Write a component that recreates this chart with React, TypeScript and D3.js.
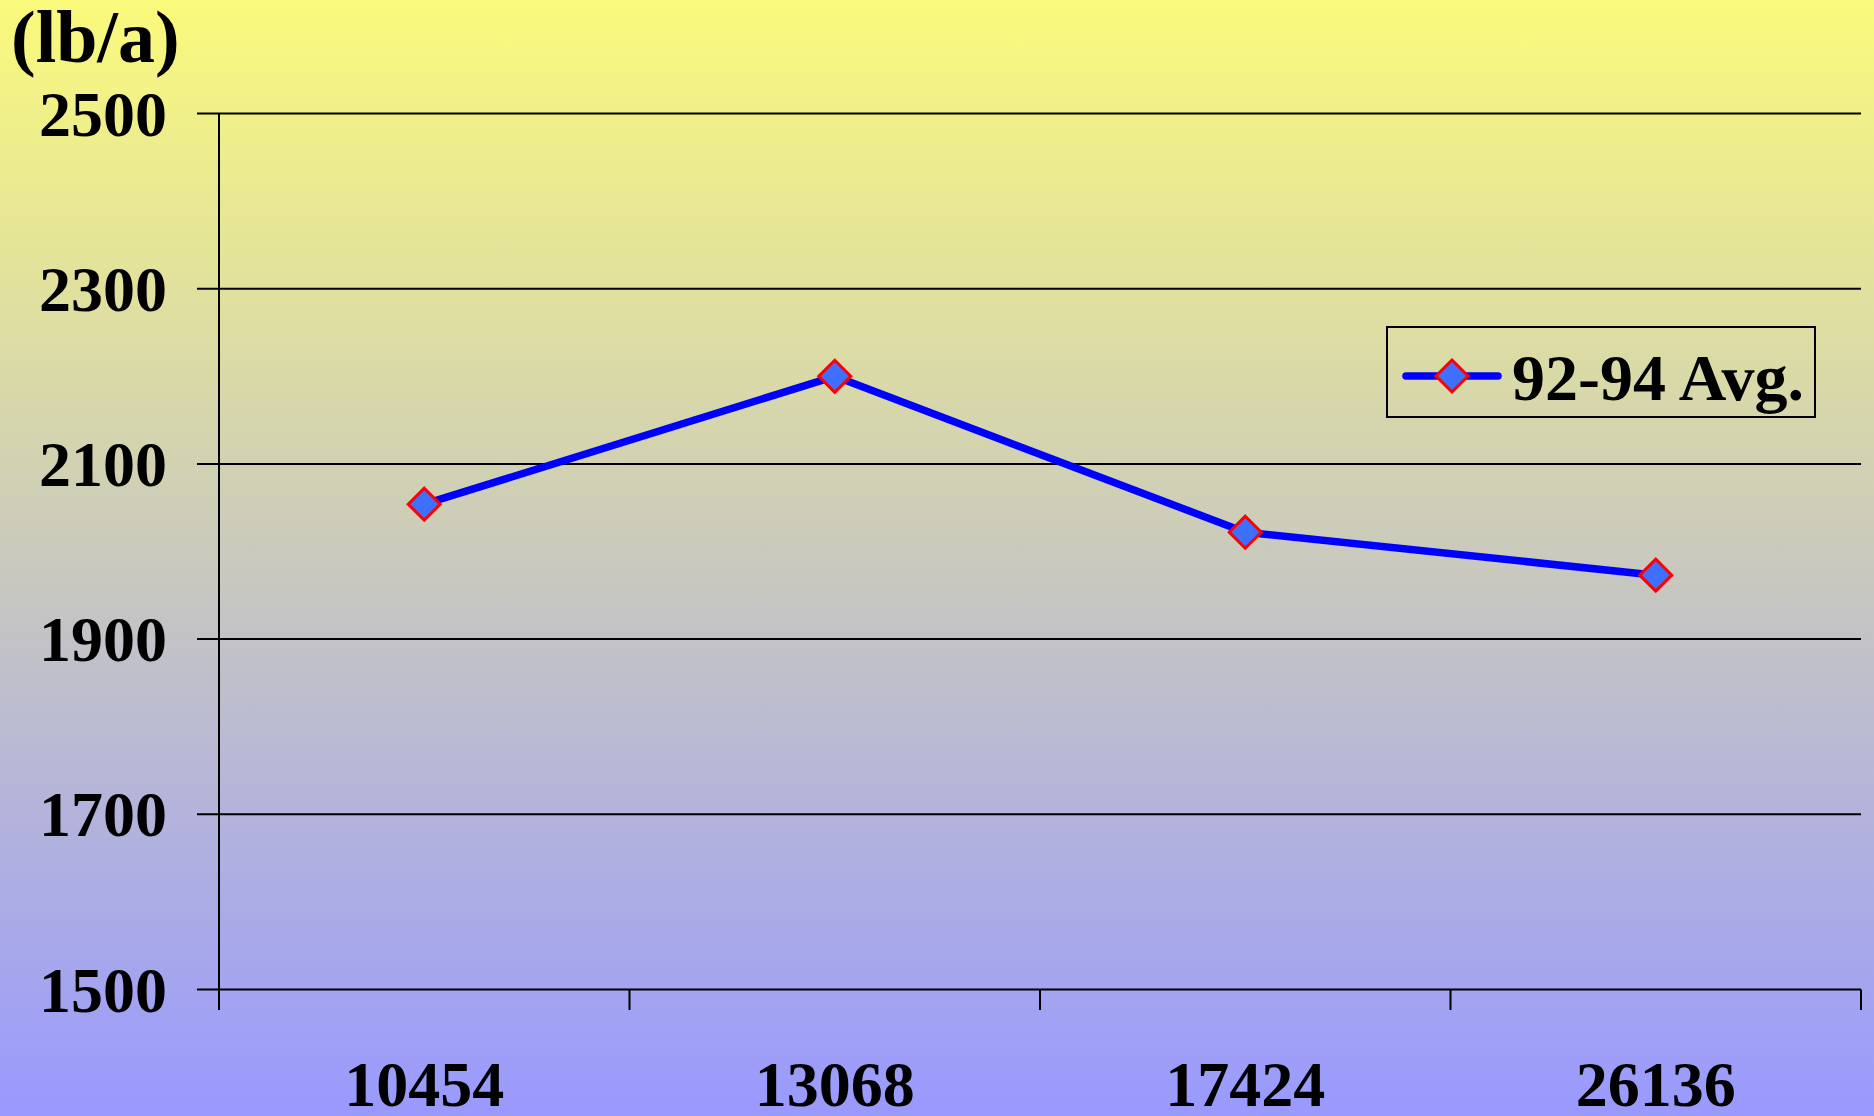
import React from "react";
import * as d3 from "d3";

const categories = ["10454", "13068", "17424", "26136"];
const avgValues = [2054, 2200, 2022, 1973];
const yTicks = [1500, 1700, 1900, 2100, 2300, 2500];
const seriesName = "92-94 Avg.";
const unitLabel = "(lb/a)";

const W = 1874;
const H = 1116;
const FONT = "'Liberation Serif', 'Times New Roman', serif";

export default function App() {
  const x = d3.scaleBand<string>().domain(categories).range([219, 1861]).padding(0);
  const y = d3.scaleLinear().domain([1500, 2500]).range([989.5, 113.5]);
  const line = d3
    .line<number>()
    .x((_, i) => (x(categories[i]) as number) + x.bandwidth() / 2)
    .y((d) => y(d));
  const diamond = (cx: number, cy: number, r: number) =>
    `M${cx},${cy - r}L${cx + r},${cy}L${cx},${cy + r}L${cx - r},${cy}Z`;
  const xTickPos = [...categories.map((c) => x(c) as number), 1861];

  return (
    <svg
      width={W}
      height={H}
      style={{ position: "absolute", left: 0, top: 0, display: "block" }}
    >
      <defs>
        <linearGradient id="bg" x1="0" y1="0" x2="0" y2="1">
          <stop offset="0" stopColor="rgb(250,250,124)" />
          <stop offset="1" stopColor="rgb(153,153,255)" />
        </linearGradient>
      </defs>
      <rect x={0} y={0} width={W} height={H} fill="url(#bg)" />

      {/* gridlines + y ticks */}
      {yTicks.map((t) => (
        <g key={t}>
          <line x1={197} x2={1861} y1={y(t)} y2={y(t)} stroke="#000" strokeWidth={2} />
          <text
            x={167}
            y={y(t) + 22}
            textAnchor="end"
            fontFamily={FONT}
            fontWeight="bold"
            fontSize={64}
          >
            {t}
          </text>
        </g>
      ))}
      {/* y axis */}
      <line x1={219} x2={219} y1={113.5} y2={1010} stroke="#000" strokeWidth={2} />
      {/* x ticks */}
      {xTickPos.map((p, i) => (
        <line key={i} x1={p} x2={p} y1={989.5} y2={1010} stroke="#000" strokeWidth={2} />
      ))}
      {categories.map((c) => (
        <text
          key={c}
          x={(x(c) as number) + x.bandwidth() / 2}
          y={1106}
          textAnchor="middle"
          fontFamily={FONT}
          fontWeight="bold"
          fontSize={64}
        >
          {c}
        </text>
      ))}

      <text x={11} y={62} fontFamily={FONT} fontWeight="bold" fontSize={74}>
        {unitLabel}
      </text>

      {/* series */}
      <path d={line(avgValues) || ""} fill="none" stroke="#0000ff" strokeWidth={7.5} strokeLinejoin="round" />
      {avgValues.map((v, i) => (
        <path
          key={i}
          d={diamond((x(categories[i]) as number) + x.bandwidth() / 2, y(v), 16)}
          fill="#3f6fff"
          stroke="#ff0000"
          strokeWidth={3}
        />
      ))}

      {/* legend */}
      <rect x={1387} y={327} width={428} height={90} fill="none" stroke="#000" strokeWidth={2} />
      <line x1={1406} x2={1498} y1={376} y2={376} stroke="#0000ff" strokeWidth={7.5} strokeLinecap="round" />
      <path d={diamond(1452, 376, 16)} fill="#3f6fff" stroke="#ff0000" strokeWidth={3} />
      <text x={1512} y={400} fontFamily={FONT} fontWeight="bold" fontSize={66}>
        {seriesName}
      </text>
    </svg>
  );
}
